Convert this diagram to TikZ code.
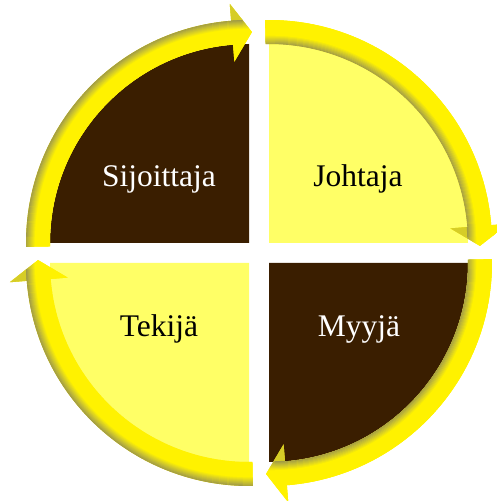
\documentclass[tikz,border=0pt]{standalone}
\usepackage{fontspec}
\setmainfont{Liberation Serif}
\definecolor{darkbrown}{RGB}{58,30,0}
\definecolor{lightyel}{RGB}{255,255,102}
\tikzset{
  lbl/.style={anchor=base, inner sep=0pt, font=\fontsize{31.5}{36}\selectfont},
  darklbl/.style={lbl, text=white},
  lightlbl/.style={lbl, text=black},
}
% band path around origin; #1 = start angle A
\newcommand{\bandpath}[1]{%
  (#1+1:223) arc[start angle=#1+1, end angle=#1-85.4, radius=223]
  -- (#1-85.4:240) -- (#1-90.8:211) -- (#1-85.4:182) -- (#1-85.4:199)
  arc[start angle=#1-85.4, end angle=#1+1, radius=199] -- cycle}
% #1 = start angle, #2 = 1 for inner dark, 0 for outer dark
\newcommand{\shadedband}[2]{%
  \begin{scope}
    \clip \bandpath{#1};
    \fill[yellow] (0,0) circle[radius=245];
    \foreach \r in {180,...,242}{%
      \ifnum#2=1
        \ifnum\r<199
          \pgfmathsetmacro\k{82}%
        \else
          \pgfmathsetmacro\k{min(100,58+42*(\r-199)/9)}%
        \fi
      \else
        \ifnum\r>223
          \pgfmathsetmacro\k{82}%
        \else
          \pgfmathsetmacro\k{min(100,58+42*(223-\r)/9)}%
        \fi
      \fi
      \draw[line width=1.3pt, color=yellow!\k!black] (0,0) circle[radius=\r];
    }
  \end{scope}}
\begin{document}
\begin{tikzpicture}[x=1pt,y=1pt]
\useasboundingbox (0,0) rectangle (496,501);
% top-left
\begin{scope}[shift={(249,258)}]
  \fill[darkbrown] (0,0) -- (90:199) arc[start angle=90, end angle=180, radius=199] -- cycle;
  \shadedband{180}{0}
\end{scope}
% top-right
\begin{scope}[shift={(269,258)}]
  \fill[lightyel] (0,0) -- (0:199) arc[start angle=0, end angle=90, radius=199] -- cycle;
  \shadedband{90}{1}
\end{scope}
% bottom-right
\begin{scope}[shift={(269,238)}]
  \fill[darkbrown] (0,0) -- (-90:199) arc[start angle=-90, end angle=0, radius=199] -- cycle;
  \shadedband{0}{1}
\end{scope}
% bottom-left
\begin{scope}[shift={(249,238)}]
  \fill[lightyel] (0,0) -- (180:199) arc[start angle=180, end angle=270, radius=199] -- cycle;
  \shadedband{-90}{0}
\end{scope}
\node[darklbl] (sij) at (159,314) {Sijoittaja};
\node[lightlbl] (joh) at (358,314) {Johtaja};
\node[darklbl] (myy) at (359,164) {Myyjä};
\node[lightlbl] (tek) at (159,164) {Tekijä};
\end{tikzpicture}
\end{document}
